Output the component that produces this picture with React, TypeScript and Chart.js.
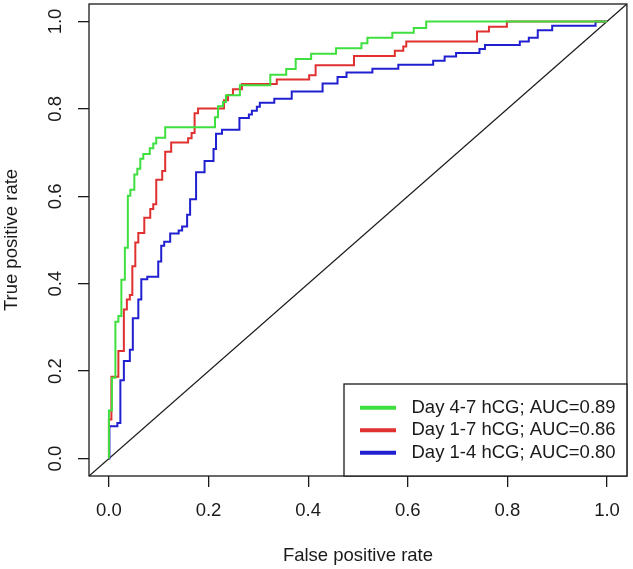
import { useEffect, useRef } from "react"
import { Chart, registerables } from "chart.js"

Chart.register(...registerables)

// ROC curves: (fpr, tpr) at the top of each vertical step
const greenFpr = [0, 0.0, 0.006, 0.013, 0.019, 0.025, 0.032, 0.038, 0.043, 0.051, 0.057, 0.063, 0.069, 0.082, 0.089, 0.095, 0.113, 0.213, 0.219, 0.229, 0.235, 0.263, 0.324, 0.356, 0.375, 0.406, 0.456, 0.507, 0.519, 0.569, 0.612, 0.637, 1.0]
const greenTpr = [0, 0.11, 0.185, 0.313, 0.326, 0.409, 0.482, 0.601, 0.615, 0.65, 0.663, 0.686, 0.697, 0.71, 0.721, 0.734, 0.758, 0.781, 0.806, 0.816, 0.831, 0.854, 0.878, 0.891, 0.914, 0.926, 0.939, 0.95, 0.963, 0.974, 0.985, 1.0, 1.0]

const redFpr = [0, 0.0, 0.005, 0.019, 0.03, 0.036, 0.042, 0.047, 0.053, 0.059, 0.071, 0.083, 0.089, 0.095, 0.107, 0.113, 0.125, 0.159, 0.166, 0.172, 0.179, 0.231, 0.239, 0.249, 0.267, 0.337, 0.402, 0.415, 0.492, 0.574, 0.591, 0.597, 0.739, 0.763, 0.799, 1.0]
const redTpr = [0, 0.089, 0.187, 0.246, 0.341, 0.364, 0.374, 0.44, 0.494, 0.516, 0.551, 0.571, 0.582, 0.638, 0.658, 0.702, 0.723, 0.733, 0.745, 0.79, 0.801, 0.82, 0.832, 0.845, 0.857, 0.867, 0.877, 0.9, 0.921, 0.933, 0.943, 0.954, 0.977, 0.988, 1.0, 1.0]

const blueFpr = [0, 0.001, 0.017, 0.023, 0.03, 0.042, 0.048, 0.059, 0.065, 0.077, 0.099, 0.105, 0.111, 0.123, 0.14, 0.147, 0.157, 0.163, 0.175, 0.192, 0.21, 0.215, 0.227, 0.262, 0.281, 0.287, 0.297, 0.303, 0.332, 0.367, 0.429, 0.459, 0.477, 0.529, 0.581, 0.651, 0.674, 0.697, 0.744, 0.755, 0.825, 0.843, 0.861, 0.89, 0.977, 1.0]
const blueTpr = [0, 0.074, 0.081, 0.179, 0.223, 0.249, 0.321, 0.364, 0.41, 0.416, 0.451, 0.487, 0.496, 0.515, 0.522, 0.531, 0.558, 0.593, 0.655, 0.681, 0.708, 0.743, 0.752, 0.779, 0.787, 0.796, 0.805, 0.814, 0.823, 0.84, 0.858, 0.873, 0.883, 0.892, 0.901, 0.91, 0.92, 0.928, 0.937, 0.946, 0.954, 0.963, 0.98, 0.99, 1.0, 1.0]

const seriesLabels = ["Day 4-7 hCG; AUC=0.89", "Day 1-7 hCG; AUC=0.86", "Day 1-4 hCG; AUC=0.80"]
const seriesColors = ["#3fdf3f", "#e03030", "#2020d0"]

const xTicks = [0, 0.2, 0.4, 0.6, 0.8, 1.0]
const yTicks = [0, 0.2, 0.4, 0.6, 0.8, 1.0]

const FONT = "'Liberation Sans', Arial, sans-serif"
const INK = "#1a1a1a"

const toPoints = (xs: number[], ys: number[]) => xs.map((x, i) => ({ x, y: ys[i] }))

// box, rotated y tick labels and the in-plot legend
const framePlugin = {
  id: "frame",
  afterDraw(chart: any) {
    const { ctx, chartArea } = chart
    const { left, right, top, bottom } = chartArea
    const yScale = chart.scales.y

    ctx.save()
    ctx.strokeStyle = INK
    ctx.lineWidth = 1.3
    ctx.strokeRect(left, top, right - left, bottom - top)

    ctx.fillStyle = INK
    ctx.font = `18.5px ${FONT}`
    ctx.textAlign = "center"
    ctx.textBaseline = "middle"
    yTicks.forEach((v) => {
      const py = yScale.getPixelForValue(v)
      ctx.save()
      ctx.translate(left - 33, py)
      ctx.rotate(-Math.PI / 2)
      ctx.fillText(v.toFixed(1), 0, 0)
      ctx.restore()
    })

    // legend
    const boxLeft = 344
    const boxTop = 384
    ctx.fillStyle = "#fff"
    ctx.fillRect(boxLeft, boxTop, right - boxLeft, bottom - boxTop)
    ctx.strokeStyle = INK
    ctx.lineWidth = 1.3
    ctx.strokeRect(boxLeft, boxTop, right - boxLeft, bottom - boxTop)

    ctx.textAlign = "left"
    seriesLabels.forEach((label, i) => {
      const rowY = 407.7 + i * 22.5
      ctx.strokeStyle = seriesColors[i]
      ctx.lineWidth = 4
      ctx.beginPath()
      ctx.moveTo(360, rowY)
      ctx.lineTo(396, rowY)
      ctx.stroke()
      ctx.fillStyle = INK
      ctx.fillText(label, 411.5, rowY)
    })
    ctx.restore()
  },
}

function RocChart() {
  const chartRef = useRef<HTMLCanvasElement>(null)
  const chartInstance = useRef<Chart | null>(null)

  useEffect(() => {
    if (!chartRef.current) return
    const ctx = chartRef.current.getContext("2d")
    if (!ctx) return

    if (chartInstance.current) {
      chartInstance.current.destroy()
    }

    Chart.defaults.font.family = FONT

    const curve = (xs: number[], ys: number[], i: number) => ({
      label: seriesLabels[i],
      data: toPoints(xs, ys),
      borderColor: seriesColors[i],
      borderWidth: 2,
      pointRadius: 0,
      stepped: "before" as const,
      fill: false,
    })

    chartInstance.current = new Chart(ctx, {
      type: "line",
      data: {
        datasets: [
          curve(greenFpr, greenTpr, 0),
          curve(redFpr, redTpr, 1),
          curve(blueFpr, blueTpr, 2),
          {
            label: "diagonal",
            data: [
              { x: -0.04, y: -0.04 },
              { x: 1.04, y: 1.04 },
            ],
            borderColor: INK,
            borderWidth: 1.3,
            pointRadius: 0,
            fill: false,
          },
        ],
      },
      options: {
        responsive: false,
        animation: false,
        layout: { padding: { left: 0, right: 4, top: 4, bottom: 0 } },
        plugins: {
          legend: { display: false },
          tooltip: { enabled: false },
        },
        scales: {
          x: {
            type: "linear",
            min: -0.04,
            max: 1.04,
            afterBuildTicks: (s: any) => {
              s.ticks = xTicks.map((value) => ({ value }))
            },
            afterFit: (s: any) => {
              s.height = 93
            },
            ticks: {
              autoSkip: false,
              maxRotation: 0,
              padding: 13,
              color: INK,
              font: { size: 18.5 },
              callback: (v: any) => Number(v).toFixed(1),
            },
            grid: {
              drawOnChartArea: false,
              drawTicks: true,
              tickLength: 11,
              color: INK,
              lineWidth: 1.3,
            },
            border: { display: false },
            title: {
              display: true,
              text: "False positive rate",
              color: INK,
              font: { size: 18.5 },
              padding: { top: 0, bottom: 2 },
            },
          },
          y: {
            type: "linear",
            min: -0.04,
            max: 1.04,
            afterBuildTicks: (s: any) => {
              s.ticks = yTicks.map((value) => ({ value }))
            },
            afterFit: (s: any) => {
              s.width = 89
            },
            ticks: { display: false },
            grid: {
              drawOnChartArea: false,
              drawTicks: true,
              tickLength: 11,
              color: INK,
              lineWidth: 1.3,
            },
            border: { display: false },
            title: {
              display: true,
              text: "True positive rate",
              color: INK,
              font: { size: 18.5 },
              padding: { top: 1, bottom: 0 },
            },
          },
        },
      },
      plugins: [framePlugin],
    })

    return () => {
      if (chartInstance.current) {
        chartInstance.current.destroy()
        chartInstance.current = null
      }
    }
  }, [])

  return (
    <div style={{ position: "absolute", left: 0, top: 0, width: 633, height: 569, background: "#fff" }}>
      <canvas ref={chartRef} width={633} height={569} />
    </div>
  )
}

export default function App() {
  return <RocChart />
}
